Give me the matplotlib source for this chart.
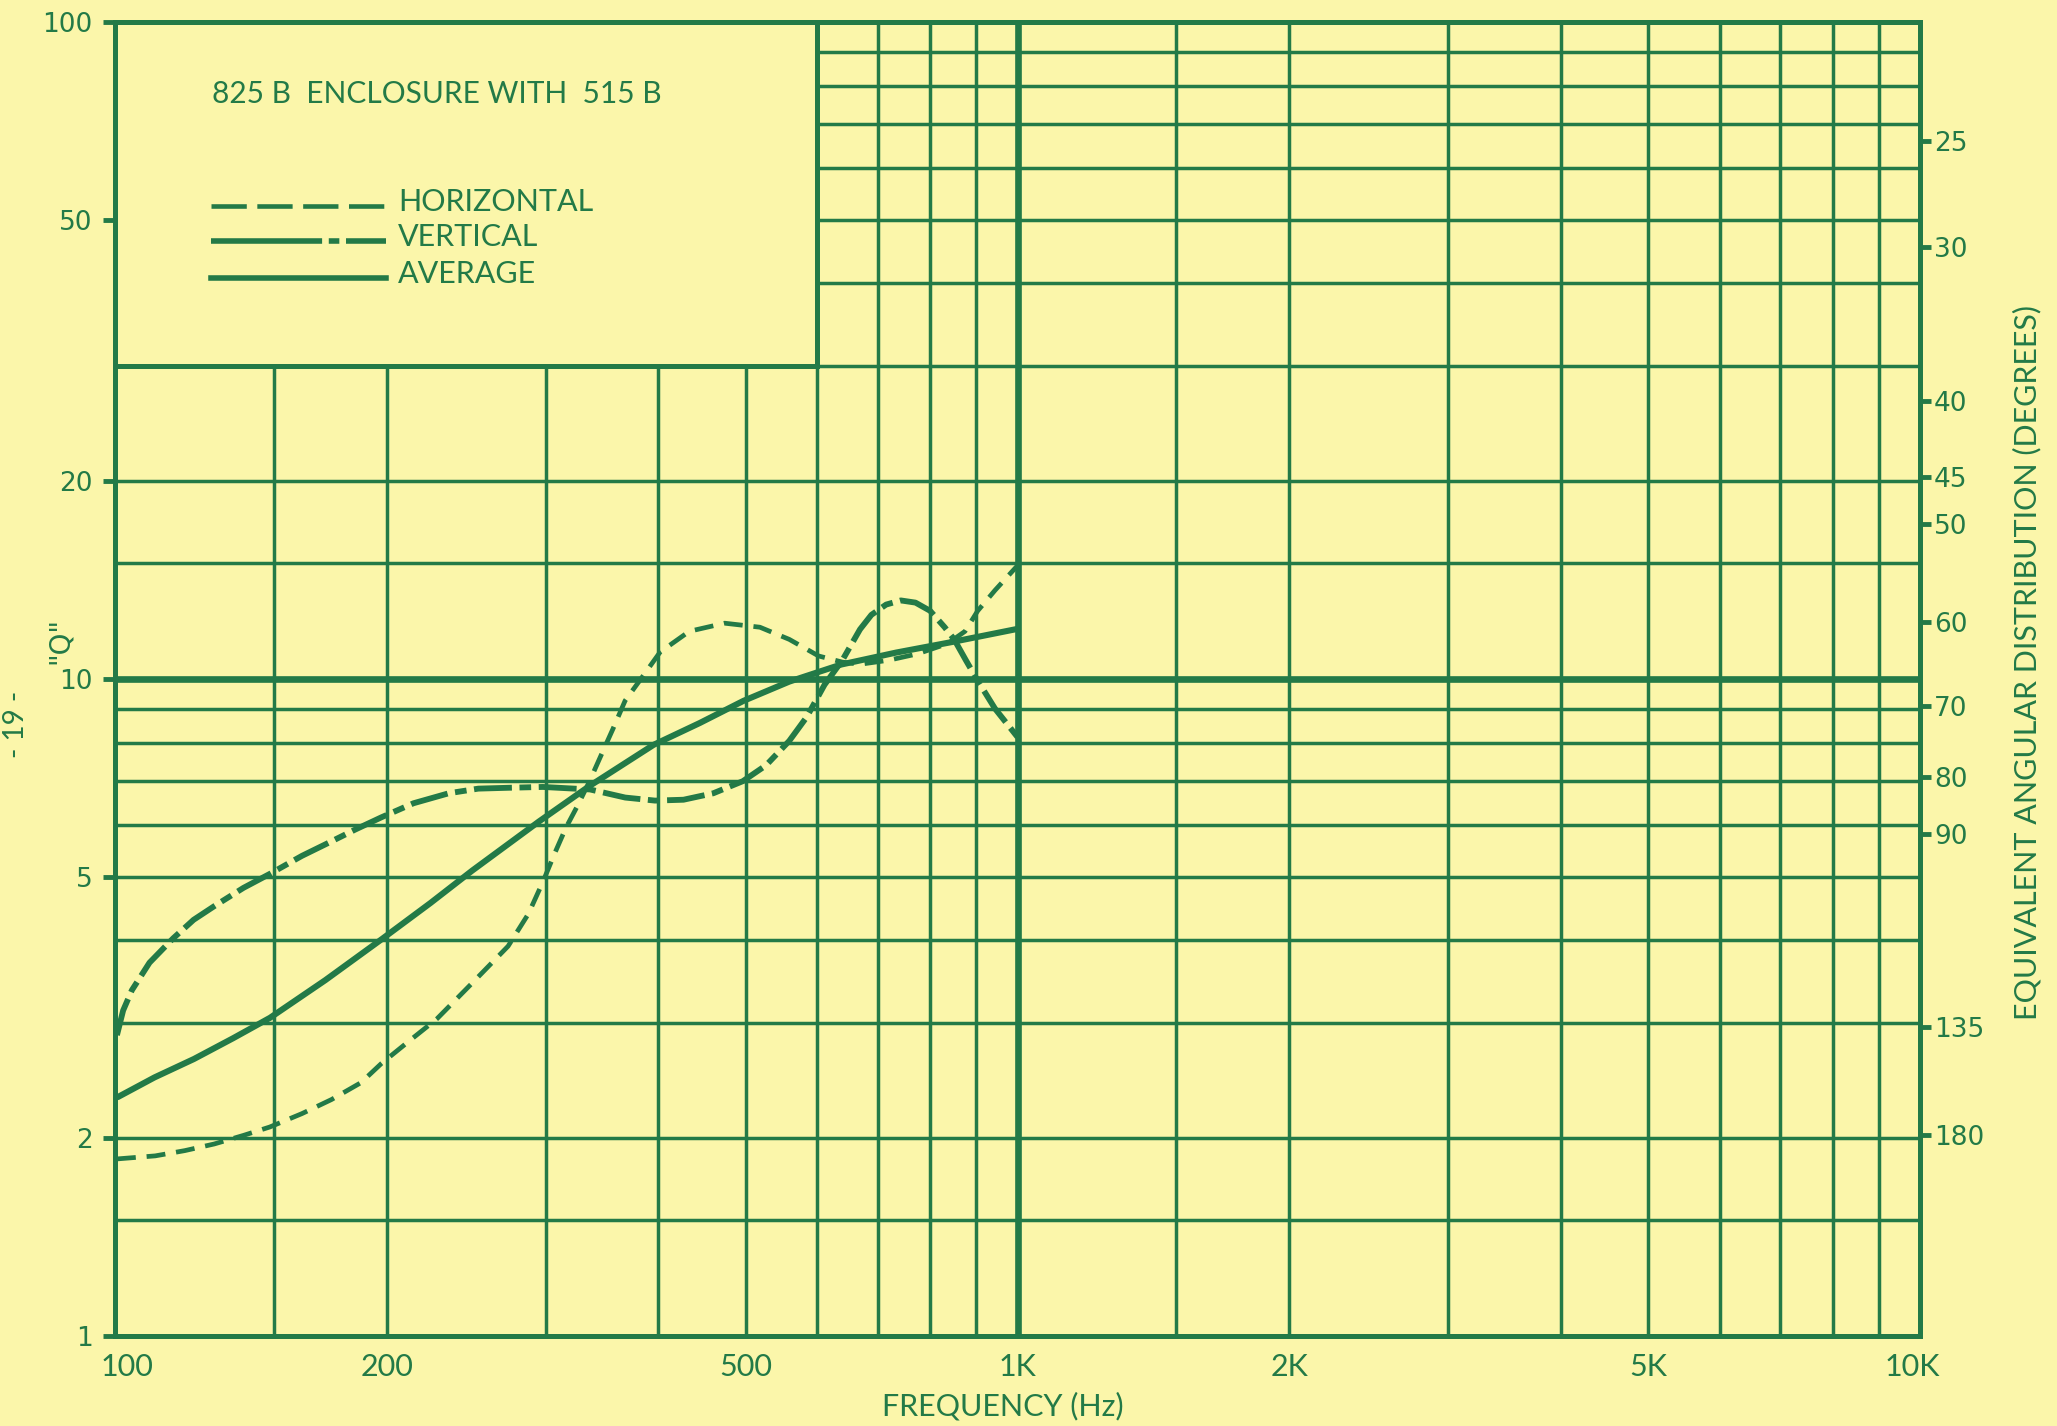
import numpy as np
import matplotlib.pyplot as plt
from matplotlib.patches import Rectangle
from matplotlib.lines import Line2D
from matplotlib.transforms import ScaledTranslation

GREEN = '#237a47'
PAPER = '#fbf6aa'
W, H = 2057, 1426

# curves (frequency in Hz, "Q")
horiz_f = [100.5, 110.8, 119.5, 128.8, 138.8, 148.4, 161.1, 173.7, 187.3, 197.4, 211, 227.4,
           249, 272.6, 287.1, 297.9, 306.9, 316, 325.6, 335.6, 345.7, 356.3, 367.5, 384.3,
           401.8, 432.9, 473.7, 518.3, 558.6, 602.1, 639.6, 669.1, 720, 774.6, 836.7,
           874.7, 903.5, 944.4, 1000]
horiz_q = [1.86, 1.88, 1.915, 1.96, 2.02, 2.08, 2.18, 2.29, 2.43, 2.6, 2.8, 3.04,
           3.45, 3.92, 4.39, 4.91, 5.42, 5.94, 6.42, 6.99, 7.66, 8.4, 9.27, 10.09,
           10.99, 11.82, 12.16, 11.99, 11.49, 10.84, 10.61, 10.53, 10.68, 10.92, 11.32,
           11.82, 12.7, 13.65, 14.88]

vert_f = [100.5, 102.1, 104.4, 109.2, 116, 122.2, 128.8, 138.8, 148.4, 161.1, 173.7, 184.6,
          197.4, 214.2, 234.3, 252.7, 272.6, 297.9, 336, 367.6, 396.6, 426.5, 460.2, 496.2,
          526.5, 558.6, 584.3, 611.2, 639.6, 669.1, 688.8, 715.2, 742.5, 770.8, 800.1,
          830.4, 850.8, 876.6, 903.5, 944.4, 1000]
vert_q = [2.87, 3.13, 3.36, 3.7, 4.03, 4.3, 4.51, 4.81, 5.05, 5.38, 5.66, 5.9,
          6.16, 6.47, 6.7, 6.81, 6.83, 6.85, 6.79, 6.6, 6.53, 6.55, 6.7, 6.99,
          7.39, 8.05, 8.76, 9.8, 10.68, 11.9, 12.52, 12.98, 13.17, 13.07, 12.7,
          11.99, 11.49, 10.68, 9.94, 9.01, 8.16]

avg_f = [100.7, 110.6, 122.3, 135.2, 148.5, 171, 197.6, 223.6, 248.8, 295, 335.4, 395.2,
         444.5, 496.8, 558.7, 637.7, 733.7, 845, 1000]
avg_q = [2.31, 2.475, 2.64, 2.84, 3.05, 3.48, 4.02, 4.56, 5.11, 6.07, 6.87, 7.94,
         8.57, 9.26, 9.91, 10.52, 10.97, 11.38, 11.92]

x_grid = [150, 200, 300, 400, 500, 600, 700, 800, 900,
          1500, 2000, 3000, 4000, 5000, 6000, 7000, 8000, 9000]
y_grid = [1.5, 2, 3, 4, 5, 6, 7, 8, 9, 15, 20, 30, 40, 50, 60, 70, 80, 90]

x_ticks = [100, 200, 500, 1000, 2000, 5000, 10000]
x_labels = ['100', '200', '500', '1K', '2K', '5K', '10K']
y_ticks = [1, 2, 5, 10, 20, 50, 100]
y_labels = ['1', '2', '5', '10', '20', '50', '100']

# right scale: coverage angle vs the Q it sits at
angle_labels = ['25', '30', '40', '45', '50', '60', '70', '80', '90', '135', '180']
angle_q = [66, 45.5, 26.5, 20.3, 17.2, 12.2, 9.1, 7.1, 5.8, 2.95, 2.02]

TXT = ['Lato', 'DejaVu Sans']
NUM = ['DejaVu Sans']


def fx(px):
    return px / W


def fy(py):
    return 1 - py / H


fig = plt.figure(figsize=(W / 100, H / 100), dpi=100)
fig.patch.set_facecolor(PAPER)
ax = fig.add_axes([fx(115), fy(1336), fx(1920) - fx(115), fy(22) - fy(1336)])
ax.set_facecolor(PAPER)
ax.set_xscale('log')
ax.set_yscale('log')
ax.set_xlim(100, 10000)
ax.set_ylim(1, 100)

for v in x_grid:
    ax.axvline(v, color=GREEN, lw=2.5, zorder=1)
for v in y_grid:
    ax.axhline(v, color=GREEN, lw=2.5, zorder=1)
ax.axvline(1000, color=GREEN, lw=4.8, zorder=1)
ax.axhline(10, color=GREEN, lw=4.8, zorder=1)

# title box covers the grid in the upper left corner
ax.add_patch(Rectangle((100, 30), 500, 70, facecolor=PAPER, edgecolor=GREEN,
                       lw=3.6, zorder=2, clip_on=False))

ax.plot(avg_f, avg_q, color=GREEN, lw=4.4, solid_capstyle='round', zorder=3)
ax.plot(vert_f, vert_q, color=GREEN, lw=4.2, dashes=(6.5, 1.3, 2, 1.3), zorder=3)
ax.plot(horiz_f, horiz_q, color=GREEN, lw=3.4, dashes=(4, 2.3), zorder=3)

for s in ax.spines.values():
    s.set_color(GREEN)
    s.set_linewidth(3.6)
    s.set_zorder(5)

ax.minorticks_off()
ax.set_xticks(x_ticks)
ax.set_xticklabels(x_labels, fontsize=22, family=TXT, color=GREEN)
ax.tick_params(axis='x', length=0, pad=12)
xl = ax.get_xticklabels()
xl[0].set_transform(xl[0].get_transform() + ScaledTranslation(0.12, 0, fig.dpi_scale_trans))
xl[-1].set_transform(xl[-1].get_transform() + ScaledTranslation(-0.08, 0, fig.dpi_scale_trans))

ax.set_yticks(y_ticks)
ax.set_yticklabels(y_labels, fontsize=19, family=NUM, color=GREEN)
ax.tick_params(axis='y', direction='out', length=9, width=3.5, color=GREEN, pad=7)
for t, v in zip(ax.yaxis.get_major_ticks(), y_ticks):
    if v != 50:
        t.tick1line.set_visible(False)

ax2 = ax.twinx()
ax2.set_yscale('log')
ax2.set_ylim(1, 100)
ax2.minorticks_off()
ax2.set_yticks(angle_q)
ax2.set_yticklabels(angle_labels, fontsize=19, family=NUM, color=GREEN)
ax2.tick_params(axis='y', direction='out', length=8, width=3.5, color=GREEN, pad=2)
for s in ax2.spines.values():
    s.set_visible(False)

# legend and heading inside the box
fig.text(fx(212), fy(94), '825 B  ENCLOSURE WITH  515 B', fontsize=21.5, family=TXT,
         color=GREEN, ha='left', va='center')
rows = [('HORIZONTAL', 206, 3.3, (7.7, 2.3)),
        ('VERTICAL', 241, 4.0, (20, 1.2, 1.9, 1.2)),
        ('AVERAGE', 278, 4.0, None)]
for name, py, lw, dash in rows:
    ln = Line2D([fx(211), fx(386)], [fy(py), fy(py)], transform=fig.transFigure,
                color=GREEN, lw=lw)
    if dash is not None:
        ln.set_dashes(dash)
    fig.add_artist(ln)
    fig.text(fx(398), fy(py - 4), name, fontsize=22, family=TXT, color=GREEN,
             ha='left', va='center')

fig.text(fx(1003), fy(1406), 'FREQUENCY (Hz)', fontsize=22, family=TXT, color=GREEN,
         ha='center', va='center')
fig.text(fx(2027), fy(662), 'EQUIVALENT ANGULAR DISTRIBUTION (DEGREES)', fontsize=22,
         family=TXT, color=GREEN, rotation=90, ha='center', va='center')
fig.text(fx(60), fy(640), '"Q"', fontsize=20, family=NUM, color=GREEN, rotation=90,
         ha='center', va='center')
fig.text(fx(16), fy(724), '- 19 -', fontsize=20, family=TXT, color=GREEN, rotation=90,
         ha='center', va='center')

fig.savefig('out.png', dpi=100, facecolor=PAPER)
